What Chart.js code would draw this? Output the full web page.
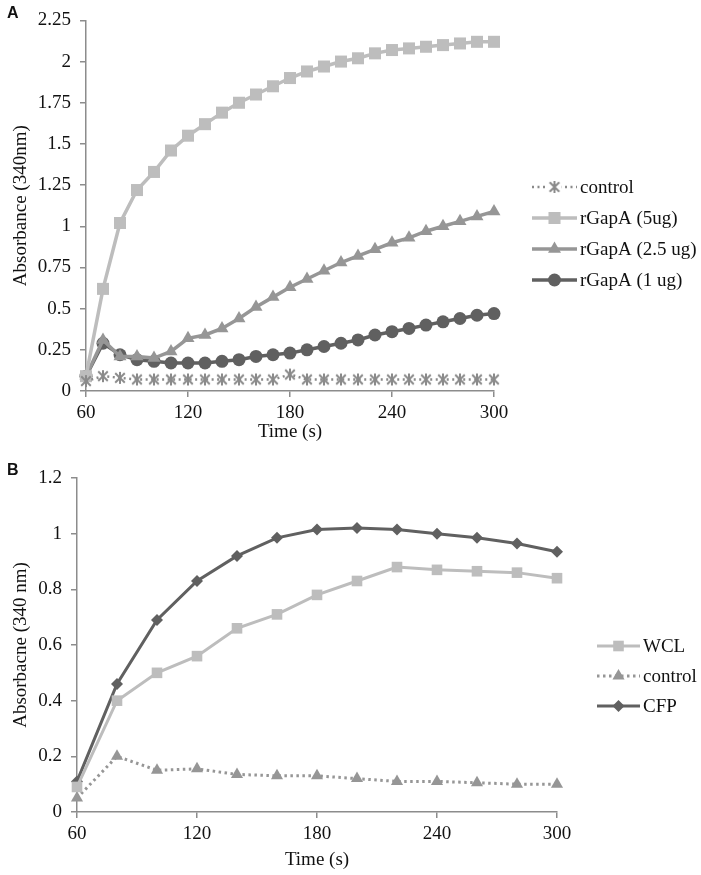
<!DOCTYPE html>
<html>
<head>
<meta charset="utf-8">
<script src="https://cdn.jsdelivr.net/npm/chart.js@4/dist/chart.umd.min.js"></script>
<style>
	html, body { margin: 0; padding: 0; background: #fff; }
	#wrap { position: relative; width: 701px; height: 875px; overflow: hidden; }
	canvas { position: absolute; left: 0; }
	.tag { position: absolute; left: 7px; font: bold 16px "Liberation Sans", Arial, sans-serif; color: #111; }
</style>
</head>
<body>
<div id="wrap">
	<canvas id="chartA" width="701" height="455" style="top:0"></canvas>
	<canvas id="chartB" width="701" height="420" style="top:455px"></canvas>
	<div class="tag" style="top:4px">A</div>
	<div class="tag" style="top:461px">B</div>
</div>
<script>
// panel A: 10 s readings
const timeA = [60, 70, 80, 90, 100, 110, 120, 130, 140, 150, 160, 170, 180, 190, 200, 210, 220, 230, 240, 250, 260, 270, 280, 290, 300];
const controlA = [0.06, 0.09, 0.08, 0.07, 0.07, 0.07, 0.07, 0.07, 0.07, 0.07, 0.07, 0.07, 0.10, 0.07, 0.07, 0.07, 0.07, 0.07, 0.07, 0.07, 0.07, 0.07, 0.07, 0.07, 0.07];
const gapA5 = [0.09, 0.62, 1.02, 1.22, 1.33, 1.46, 1.55, 1.62, 1.69, 1.75, 1.80, 1.85, 1.90, 1.94, 1.97, 2.00, 2.02, 2.05, 2.07, 2.08, 2.09, 2.10, 2.11, 2.12, 2.12];
const gapA25 = [0.09, 0.31, 0.21, 0.21, 0.20, 0.24, 0.32, 0.34, 0.38, 0.44, 0.51, 0.57, 0.63, 0.68, 0.73, 0.78, 0.82, 0.86, 0.90, 0.93, 0.97, 1.00, 1.03, 1.06, 1.09];
const gapA1 = [0.09, 0.29, 0.22, 0.19, 0.18, 0.17, 0.17, 0.17, 0.18, 0.19, 0.21, 0.22, 0.23, 0.25, 0.27, 0.29, 0.31, 0.34, 0.36, 0.38, 0.40, 0.42, 0.44, 0.46, 0.47];
const ticksA = [0, 0.25, 0.5, 0.75, 1, 1.25, 1.5, 1.75, 2, 2.25];

// panel B: 20 s readings
const timeB = [60, 80, 100, 120, 140, 160, 180, 200, 220, 240, 260, 280, 300];
const wcl = [0.09, 0.40, 0.50, 0.56, 0.66, 0.71, 0.78, 0.83, 0.88, 0.87, 0.865, 0.86, 0.84];
const controlB = [0.05, 0.20, 0.15, 0.155, 0.135, 0.13, 0.13, 0.12, 0.11, 0.11, 0.105, 0.10, 0.10];
const cfp = [0.11, 0.46, 0.69, 0.83, 0.92, 0.985, 1.015, 1.02, 1.015, 1.0, 0.985, 0.965, 0.935];
const ticksB = [0, 0.2, 0.4, 0.6, 0.8, 1, 1.2];

const timeTicks = [60, 120, 180, 240, 300];

const serif = "'Liberation Serif', 'Times New Roman', serif";
const axisGray = "#8c8c8c";
const light = "#bdbdbd";
const mid = "#969696";
const dark = "#606060";
const ctrlGray = "#8a8a8a";

const pts = (xs, ys) => xs.map((x, i) => ({ x: x, y: ys[i] }));

// asterisk marker like the Excel one: an X with a vertical bar
function asterisk(size, color) {
	const c = document.createElement("canvas");
	c.width = size;
	c.height = size;
	const g = c.getContext("2d");
	g.strokeStyle = color;
	g.lineWidth = 2;
	const m = size / 2, r = size / 2 - 1;
	g.beginPath();
	g.moveTo(m - r * 0.8, m - r * 0.8); g.lineTo(m + r * 0.8, m + r * 0.8);
	g.moveTo(m + r * 0.8, m - r * 0.8); g.lineTo(m - r * 0.8, m + r * 0.8);
	g.moveTo(m, m - r); g.lineTo(m, m + r);
	g.stroke();
	return c;
}
const starMark = asterisk(14, ctrlGray);

// draws the legend off to the right: short line with the marker in its middle
const sideLegend = {
	id: "sideLegend"
	, afterDraw(chart, args, opts) {
		const ctx = chart.ctx;
		chart.data.datasets.forEach((ds, i) => {
			const y = opts.y + i * opts.gap;
			ctx.save();
			ctx.strokeStyle = ds.borderColor;
			ctx.lineWidth = ds.borderWidth;
			ctx.setLineDash(ds.borderDash || []);
			ctx.beginPath();
			ctx.moveTo(opts.x, y);
			ctx.lineTo(opts.x + opts.len, y);
			ctx.stroke();
			ctx.setLineDash([]);
			ctx.fillStyle = ds.pointBackgroundColor;
			ctx.strokeStyle = ds.pointBorderColor;
			ctx.lineWidth = ds.pointBorderWidth;
			if (ds.pointStyle instanceof HTMLCanvasElement) {
				ctx.fillStyle = "#fff";
				ctx.fillRect(opts.x + opts.len / 2 - 7, y - 7, 14, 14);
			}
			Chart.helpers.drawPoint(ctx, {
				pointStyle: ds.pointStyle
				, radius: ds.pointRadius
				, rotation: 0
				, borderWidth: ds.pointBorderWidth
			}, opts.x + opts.len / 2, y);
			ctx.fillStyle = "#111";
			ctx.font = "19px " + serif;
			ctx.textBaseline = "middle";
			ctx.textAlign = "left";
			ctx.fillText(ds.label, opts.x + opts.len + 3, y + 1);
			ctx.restore();
		});
	}
};

function makeScales(yTicks, yMax, yTitle, yWidth, xHeight, xTitlePad) {
	return {
		x: {
			type: "linear"
			, min: 60
			, max: 300
			, afterBuildTicks: s => { s.ticks = timeTicks.map(v => ({ value: v })); }
			, afterFit: s => { s.height = xHeight; }
			, grid: { drawOnChartArea: false, drawTicks: true, tickLength: 6, color: axisGray, lineWidth: 1.5 }
			, border: { color: axisGray, width: 1.5 }
			, ticks: { color: "#111", padding: 5, font: { family: serif, size: 19 } }
			, title: { display: true, text: "Time (s)", color: "#111", padding: { top: 2, bottom: xTitlePad }, font: { family: serif, size: 19 } }
		}
		, y: {
			min: 0
			, max: yMax
			, afterBuildTicks: s => { s.ticks = yTicks.map(v => ({ value: v })); }
			, afterFit: s => { s.width = yWidth; }
			, grid: { drawOnChartArea: false, drawTicks: true, tickLength: 6, color: axisGray, lineWidth: 1.5 }
			, border: { color: axisGray, width: 1.5 }
			, ticks: { color: "#111", padding: 9, font: { family: serif, size: 19 }, callback: v => String(parseFloat(v.toFixed(2))) }
			, title: { display: true, text: yTitle, color: "#111", padding: { top: 10, bottom: 0 }, font: { family: serif, size: 19 } }
		}
	};
}

new Chart(document.getElementById("chartA"), {
	type: "line"
	, data: {
		datasets: [{
			label: "control"
			, data: pts(timeA, controlA)
			, borderColor: ctrlGray
			, borderWidth: 2.5
			, borderDash: [2, 3.5]
			, pointStyle: starMark
			, pointRadius: 6
			, pointBackgroundColor: ctrlGray
			, pointBorderColor: ctrlGray
			, pointBorderWidth: 1.8
		}
		, {
			label: "rGapA (5ug)"
			, data: pts(timeA, gapA5)
			, borderColor: light
			, borderWidth: 3.5
			, pointStyle: "rect"
			, pointRadius: 8.5
			, pointBackgroundColor: light
			, pointBorderColor: light
			, pointBorderWidth: 0
		}
		, {
			label: "rGapA (2.5 ug)"
			, data: pts(timeA, gapA25)
			, borderColor: mid
			, borderWidth: 3.5
			, pointStyle: "triangle"
			, pointRadius: 7.5
			, pointBackgroundColor: mid
			, pointBorderColor: mid
			, pointBorderWidth: 0
		}
		, {
			label: "rGapA (1 ug)"
			, data: pts(timeA, gapA1)
			, borderColor: dark
			, borderWidth: 3.5
			, pointStyle: "circle"
			, pointRadius: 6.5
			, pointBackgroundColor: dark
			, pointBorderColor: dark
			, pointBorderWidth: 0
		}]
	}
	, options: {
		responsive: false
		, animation: false
		, datasets: { line: { clip: false } }
		, layout: { padding: { left: 0, right: 207, top: 15, bottom: 0 } }
		, plugins: {
			legend: { display: false }
			, tooltip: { enabled: false }
			, sideLegend: { x: 532, y: 187, gap: 31, len: 45 }
		}
		, scales: makeScales(ticksA, 2.25, "Absorbance (340nm)", 86, 64, 12)
	}
	, plugins: [sideLegend]
});

new Chart(document.getElementById("chartB"), {
	type: "line"
	, data: {
		datasets: [{
			label: "WCL"
			, data: pts(timeB, wcl)
			, borderColor: light
			, borderWidth: 3
			, pointStyle: "rect"
			, pointRadius: 7.5
			, pointBackgroundColor: light
			, pointBorderColor: light
			, pointBorderWidth: 0
		}
		, {
			label: "control"
			, data: pts(timeB, controlB)
			, borderColor: mid
			, borderWidth: 3
			, borderDash: [2.5, 3.5]
			, pointStyle: "triangle"
			, pointRadius: 7
			, pointBackgroundColor: mid
			, pointBorderColor: mid
			, pointBorderWidth: 0
		}
		, {
			label: "CFP"
			, data: pts(timeB, cfp)
			, borderColor: dark
			, borderWidth: 3
			, pointStyle: "rectRot"
			, pointRadius: 6
			, pointBackgroundColor: dark
			, pointBorderColor: dark
			, pointBorderWidth: 0
		}]
	}
	, options: {
		responsive: false
		, animation: false
		, datasets: { line: { clip: false } }
		, layout: { padding: { left: 0, right: 144, top: 23, bottom: 0 } }
		, plugins: {
			legend: { display: false }
			, tooltip: { enabled: false }
			, sideLegend: { x: 597, y: 191, gap: 30, len: 43 }
		}
		, scales: makeScales(ticksB, 1.2, "Absorbacne (340 nm)", 77, 63, 4)
	}
	, plugins: [sideLegend]
});
</script>
</body>
</html>
